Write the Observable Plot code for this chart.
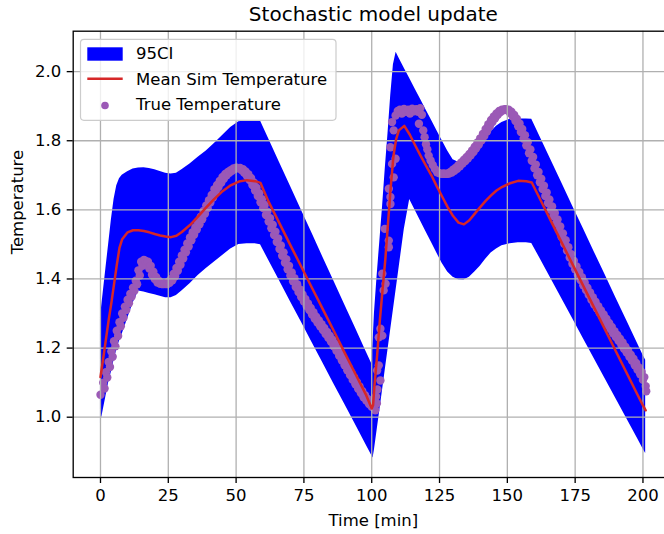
<!DOCTYPE html>
<html><head><meta charset="utf-8">
<script src="https://cdn.jsdelivr.net/npm/d3@7"></script>
<script src="https://cdn.jsdelivr.net/npm/@observablehq/plot@0.6"></script>
<style>
html,body{margin:0;padding:0;background:#fff;}
#wrap{position:relative;width:664px;height:534px;overflow:hidden;background:#fff;}
#legend{position:absolute;left:0;top:0;pointer-events:none;}
</style></head>
<body><div id="wrap"></div>
<script>
// ---- data ----
const time = [0,1,2,3,4,5,6,7,8,
  10,12,14,16,18,20,22,24,26,28,30,
  33,36,39,42,45,48,51,54,57,59,
  62,66,70,74,78,82,86,90,94,98,100,100.5,
  101,102,103,104,105,106,107,108,109,110,
  112,114,116,118,120,122,124,126,128,130,132,134,136,138,140,142,144,146,148,
  151,154,157,159,162,166,170,174,178,182,186,190,194,198,200,201];
const ciUpper = [1.29,1.36,1.43,1.50,1.57,1.63,1.67,1.69,1.70,
  1.71,1.718,1.721,1.722,1.72,1.716,1.711,1.706,1.704,1.706,1.716,
  1.733,1.752,1.77,1.792,1.815,1.838,1.855,1.858,1.858,1.857,
  1.806,1.737,1.669,1.6,1.532,1.463,1.395,1.326,1.258,1.189,1.155,1.22,
  1.30,1.41,1.51,1.61,1.72,1.82,1.93,2.02,2.056,2.04,
  2.01,1.98,1.95,1.92,1.89,1.86,1.83,1.80,1.77,1.745,1.738,1.742,1.755,1.772,1.79,1.81,1.826,1.842,1.853,
  1.862,1.863,1.863,1.862,1.812,1.746,1.679,1.612,1.546,1.479,1.413,1.346,1.28,1.213,1.18,1.165];
const ciLower = [0.981,1.02,1.06,1.10,1.13,1.165,1.195,1.22,1.24,
  1.285,1.33,1.365,1.362,1.358,1.354,1.35,1.346,1.346,1.352,1.365,
  1.386,1.41,1.43,1.449,1.468,1.487,1.5,1.502,1.502,1.499,
  1.454,1.395,1.335,1.276,1.216,1.157,1.097,1.038,0.979,0.919,0.889,0.882,
  0.905,0.963,1.021,1.079,1.137,1.195,1.253,1.311,1.369,1.427,
  1.543,1.63,1.599,1.568,1.537,1.506,1.475,1.445,1.42,1.405,1.398,1.397,1.405,1.42,1.437,1.457,1.475,1.487,1.496,
  1.502,1.505,1.505,1.503,1.46,1.402,1.344,1.286,1.228,1.17,1.112,1.054,0.996,0.938,0.909,0.895];
const meanTemp = [1.116,1.17,1.225,1.28,1.33,1.385,1.44,1.49,1.515,
  1.535,1.541,1.541,1.539,1.535,1.53,1.526,1.523,1.521,1.525,1.536,
  1.556,1.581,1.607,1.632,1.654,1.671,1.682,1.686,1.683,1.678,
  1.623,1.561,1.498,1.436,1.374,1.312,1.25,1.187,1.125,1.063,1.025,1.035,
  1.09,1.18,1.28,1.37,1.455,1.56,1.665,1.755,1.805,1.83,
  1.843,1.818,1.787,1.757,1.728,1.70,1.668,1.638,1.608,1.582,1.563,1.558,1.57,1.589,1.608,1.626,1.642,1.656,1.666,
  1.677,1.684,1.683,1.679,1.632,1.569,1.506,1.443,1.38,1.317,1.254,1.191,1.128,1.065,1.034,1.02];

// true temperature, first sample set
const trueTime = [
  0,1,2,3,4,5,6,7,8,9,10,11,12,13,14,15,16,17,18,19,20,21,22,23,24,25,26,27,28,29,
  30,31,32,33,34,35,36,37,38,39,40,41,42,43,44,45,46,47,48,49,50,51,52,53,54,55,56,57,58,59,
  60,61,62,63,64,65,66,67,68,69,70,71,72,73,74,75,76,77,78,79,80,81,82,83,84,85,86,87,88,89,
  90,91,92,93,94,95,96,97,98,99,100,
  100.5,100.9,101.3,101.6,101.9,102.1,102.0,102.6,103.2,102.6,103.9,103.2,104.4,105.1,103.9,106.3,106.3,104.8,106.9,106.9,106.3,108.1,107.5,108.8,106.9,108.1,107.5,108.8,
  109.6,110.4,111.1,111.9,112.6,113.4,114.1,114.9,115.6,116.4,117.1,117.9,118.5,117.4,
  119,119.5,120,120.5,121,121.7,122.5,123.3,124.1,125,126,127,128,129,
  130,131,132,133,134,135,136,137,138,139,140,141,142,143,144,145,146,147,148,149,
  150,151,152,153,154,155,156,157,158,159,160,161,162,163,164,165,166,167,168,169,
  170,171,172,173,174,175,176,177,178,179,180,181,182,183,184,185,186,187,188,189,
  190,191,192,193,194,195,196,197,198,199,200,201,201.2];
const trueTemp = [
  1.065,1.10,1.13,1.16,1.19,1.22,1.25,1.275,1.30,1.32,1.34,1.357,1.375,1.395,1.425,1.45,1.455,1.445,1.43,1.412,
  1.40,1.39,1.386,1.385,1.386,1.392,1.40,1.415,1.432,1.45,
  1.468,1.485,1.503,1.52,1.535,1.55,1.565,1.58,1.597,1.613,1.628,1.643,1.66,1.672,1.684,1.695,1.704,1.71,1.715,1.72,
  1.722,1.72,1.715,1.707,1.698,1.686,1.672,1.656,1.64,1.622,
  1.605,1.585,1.566,1.547,1.527,1.507,1.487,1.467,1.447,1.428,1.41,1.393,1.377,1.362,1.348,1.335,1.322,1.31,1.297,1.285,
  1.274,1.263,1.252,1.241,1.23,1.218,1.205,1.192,1.178,1.164,
  1.15,1.136,1.122,1.108,1.095,1.082,1.07,1.058,1.048,1.038,1.03,
  1.03,1.045,1.02,1.06,1.04,1.08,1.135,1.15,1.106,1.231,1.236,1.256,1.367,1.386,1.415,1.492,1.511,1.545,1.617,1.637,1.661,1.694,1.733,1.748,1.781,1.83,1.854,1.873,
  1.886,1.89,1.879,1.892,1.884,1.89,1.879,1.893,1.885,1.891,1.884,1.894,1.875,1.849,
  1.83,1.81,1.79,1.775,1.757,1.743,1.73,1.718,1.709,1.706,1.704,1.704,1.705,1.71,
  1.716,1.722,1.73,1.737,1.745,1.753,1.762,1.772,1.783,1.795,1.807,1.82,1.834,1.848,1.86,1.87,1.879,1.886,1.89,1.891,
  1.888,1.88,1.87,1.857,1.842,1.825,1.806,1.786,1.764,1.742,1.72,1.70,1.68,1.66,1.64,1.62,1.60,1.582,1.562,1.542,
  1.522,1.502,1.482,1.462,1.444,1.428,1.412,1.397,1.382,1.368,1.354,1.34,1.327,1.315,1.303,1.291,1.279,1.267,1.255,1.243,
  1.232,1.221,1.21,1.198,1.187,1.175,1.163,1.15,1.137,1.124,1.108,1.09,1.075];

// true temperature, second (overlapping) sample set that thickens the track
const trueTimeB = [
  1.5,2.5,3.5,4.5,5.5,6.5,7.5,8.5,9.5,10.5,11.5,12.5,13.5,14.5,15.5,16.5,17.5,18.5,19.5,
  20.5,21.5,22.5,23.5,24.5,25.5,26.5,27.5,28.5,29.5,30.5,31.5,32.5,33.5,34.5,35.5,36.5,37.5,38.5,39.5,
  40.5,41.5,42.5,43.5,44.5,45.5,46.5,47.5,48.5,49.5,50.5,51.5,52.5,53.5,54.5,55.5,56.5,57.5,58.5,59.5,
  60.5,61.5,62.5,63.5,64.5,65.5,66.5,67.5,68.5,69.5,70.5,71.5,72.5,73.5,74.5,75.5,76.5,77.5,78.5,79.5,
  80.5,81.5,82.5,83.5,84.5,85.5,86.5,87.5,88.5,89.5,90.5,91.5,92.5,93.5,94.5,95.5,96.5,97.5,98.5,99.5,
  126.5,127.5,128.5,129.5,130.5,131.5,132.5,133.5,134.5,135.5,136.5,137.5,138.5,139.5,
  140.5,141.5,142.5,143.5,144.5,145.5,146.5,147.5,148.5,149.5,150.5,151.5,152.5,153.5,154.5,155.5,156.5,157.5,158.5,159.5,
  160.5,161.5,162.5,163.5,164.5,165.5,166.5,167.5,168.5,169.5,170.5,171.5,172.5,173.5,174.5,175.5,176.5,177.5,178.5,179.5,
  180.5,181.5,182.5,183.5,184.5,185.5,186.5,187.5,188.5,189.5,190.5,191.5,192.5,193.5,194.5,195.5,196.5,197.5,198.5,199.5,200.5];
const trueTempB = [
  1.083,1.115,1.145,1.175,1.205,1.235,1.263,1.288,1.31,1.33,1.349,1.366,1.385,1.41,1.438,1.453,1.45,1.438,1.421,
  1.406,1.395,1.388,1.386,1.385,1.389,1.396,1.408,1.424,1.441,1.459,1.477,1.494,1.512,1.528,1.543,1.558,1.573,1.589,1.605,
  1.621,1.636,1.652,1.666,1.678,1.69,1.70,1.707,1.713,1.718,1.721,1.721,1.718,1.711,1.703,1.692,1.679,1.664,1.648,1.631,
  1.614,1.595,1.576,1.557,1.537,1.517,1.497,1.477,1.457,1.438,1.419,1.402,1.385,1.37,1.355,1.342,1.329,1.316,1.304,1.291,
  1.28,1.269,1.258,1.247,1.236,1.224,1.212,1.199,1.185,1.171,1.157,1.143,1.129,1.115,1.102,1.089,1.076,1.064,1.053,1.043,
  1.705,1.704,1.705,1.708,1.713,1.719,1.726,1.734,1.741,1.749,1.758,1.767,1.778,1.789,
  1.801,1.814,1.827,1.841,1.854,1.865,1.875,1.883,1.888,1.891,1.89,1.884,1.875,1.864,1.85,1.834,1.816,1.796,1.775,1.753,
  1.731,1.71,1.69,1.67,1.65,1.63,1.61,1.591,1.572,1.552,1.532,1.512,1.492,1.472,1.453,1.436,1.42,1.405,1.39,1.375,
  1.361,1.347,1.334,1.321,1.309,1.297,1.285,1.273,1.261,1.249,1.238,1.227,1.216,1.204,1.193,1.181,1.169,1.157,1.144,1.131,1.116];

const xTicks = [0,25,50,75,100,125,150,175,200];
const yTicks = [1.0,1.2,1.4,1.6,1.8,2.0];
const legendLabels = ["95CI","Mean Sim Temperature","True Temperature"];
const titleText = "Stochastic model update";
const xLabel = "Time [min]";
const yLabel = "Temperature";

// ---- colours ----
const bandColor = "#0000ff", meanColor = "#d62728", trueColor = "#9b59b6", gridColor = "#b0b0b0";

const bandRows = time.map((t, i) => ({t, lo: ciLower[i], hi: ciUpper[i], mean: meanTemp[i]}));
const trueRows = trueTime.map((t, i) => ({t, v: trueTemp[i]}))
  .concat(trueTimeB.map((t, i) => ({t, v: trueTempB[i]})));

const chart = Plot.plot({
  width: 700, height: 534,
  marginLeft: 72.7, marginRight: 27, marginTop: 30.7, marginBottom: 57,
  x: {domain: [-10.06, 211.26]},
  y: {domain: [0.8255, 2.117]},
  style: {fontFamily: "'DejaVu Sans', sans-serif", fontSize: "16.5px", color: "#000", background: "#fff", maxWidth: "none", overflow: "visible"},
  marks: [
    Plot.areaY(bandRows, {x: "t", y1: "lo", y2: "hi", fill: bandColor, fillOpacity: 1, curve: "linear"}),
    Plot.dot(trueRows, {x: "t", y: "v", r: 4.2, fill: trueColor, fillOpacity: 1, stroke: null}),
    Plot.gridX({ticks: xTicks, stroke: gridColor, strokeOpacity: 1, strokeWidth: 1.3}),
    Plot.gridY({ticks: yTicks, stroke: gridColor, strokeOpacity: 1, strokeWidth: 1.3}),
    Plot.lineY(bandRows, {x: "t", y: "mean", stroke: meanColor, strokeWidth: 2.5, curve: "linear"}),
    Plot.frame({stroke: "#000", strokeWidth: 1.33}),
    Plot.axisX({ticks: xTicks, tickSize: 6, tickPadding: 6, label: null, tickFormat: d => String(d), strokeWidth: 1.33}),
    Plot.axisY({ticks: yTicks, tickSize: 6, tickPadding: 6, label: null, tickFormat: d3.format(".1f"), strokeWidth: 1.33}),
    Plot.text([titleText], {text: d => d, frameAnchor: "top", dy: -10, lineAnchor: "bottom", fontSize: 20}),
    Plot.text([xLabel], {text: d => d, frameAnchor: "bottom", dy: 43, lineAnchor: "middle", fontSize: 16.5}),
    Plot.text([yLabel], {text: d => d, frameAnchor: "left", dx: -55, rotate: -90, lineAnchor: "middle", fontSize: 16.5})
  ]
});
const wrap = document.getElementById("wrap");
wrap.appendChild(chart);

// ---- legend (overlay) ----
const ns = "http://www.w3.org/2000/svg";
const lg = document.createElementNS(ns, "svg");
lg.setAttribute("id", "legend");
lg.setAttribute("width", 664); lg.setAttribute("height", 534);
lg.style.fontFamily = "'DejaVu Sans', sans-serif";
lg.style.fontSize = "16.5px";
function el(tag, attrs, text) {
  const e = document.createElementNS(ns, tag);
  for (const k in attrs) e.setAttribute(k, attrs[k]);
  if (text != null) e.textContent = text;
  lg.appendChild(e);
  return e;
}
el("rect", {x: 80.5, y: 39.3, width: 255.5, height: 81, rx: 3.5, fill: "#fff", "fill-opacity": 0.8, stroke: "#cccccc", "stroke-width": 1.2});
el("rect", {x: 87.3, y: 47.3, width: 35.4, height: 13.4, fill: bandColor});
el("line", {x1: 87.3, x2: 122.7, y1: 78.7, y2: 78.7, stroke: meanColor, "stroke-width": 2.5});
el("circle", {cx: 105, cy: 105.5, r: 3.8, fill: trueColor});
[59.3, 85, 110.3].forEach((by, i) => el("text", {x: 136, y: by, fill: "#000"}, legendLabels[i]));
wrap.appendChild(lg);
</script>
</body></html>
